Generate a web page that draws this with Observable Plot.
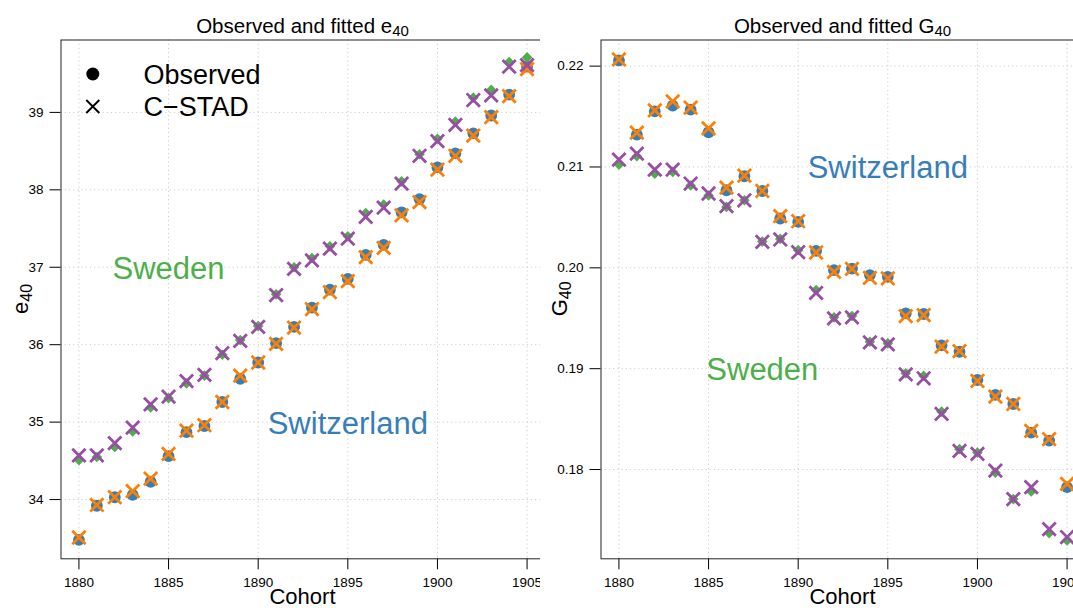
<!DOCTYPE html>
<html>
<head>
<meta charset="utf-8">
<script src="https://cdn.jsdelivr.net/npm/d3@7"></script>
<script src="https://cdn.jsdelivr.net/npm/@observablehq/plot@0.6"></script>
<style>
  html, body { margin: 0; padding: 0; background: #fff; }
  #wrap { position: relative; width: 1073px; height: 608px; overflow: hidden; background: #fff; }
  #left, #right { position: absolute; top: 0; width: 550px; height: 608px; }
  #left { left: 0; }
  #right { left: 540px; }
  #wrap svg { max-width: none !important; }
</style>
</head>
<body>
<div id="wrap"><div id="left"></div><div id="right"></div></div>
<script>
// ---------- data ----------
const cohorts = [1880,1881,1882,1883,1884,1885,1886,1887,1888,1889,1890,1891,1892,1893,1894,1895,1896,1897,1898,1899,1900,1901,1902,1903,1904,1905];

const sweObsE40 = [34.51,34.55,34.68,34.88,35.19,35.31,35.50,35.60,35.87,36.06,36.24,36.65,37.00,37.12,37.27,37.40,37.70,37.81,38.11,38.46,38.66,38.88,39.19,39.29,39.65,39.71];
const sweFitE40 = [34.57,34.57,34.73,34.93,35.23,35.33,35.53,35.61,35.89,36.05,36.23,36.64,36.98,37.09,37.24,37.37,37.65,37.77,38.08,38.44,38.63,38.84,39.16,39.22,39.59,39.61];
const cheObsE40 = [33.48,33.92,34.03,34.06,34.23,34.56,34.87,34.95,35.26,35.56,35.77,36.02,36.23,36.48,36.71,36.85,37.16,37.29,37.71,37.88,38.29,38.47,38.73,38.96,39.23,39.59];
const cheFitE40 = [33.51,33.93,34.03,34.11,34.27,34.59,34.89,34.96,35.26,35.60,35.77,36.01,36.22,36.46,36.68,36.82,37.13,37.25,37.67,37.84,38.26,38.44,38.70,38.94,39.21,39.56];

const cheObsG40 = [0.22056,0.21321,0.21551,0.21608,0.21568,0.21344,0.20769,0.20908,0.20762,0.20489,0.20455,0.20168,0.19977,0.19993,0.19928,0.19911,0.19548,0.19542,0.19232,0.19168,0.18888,0.18740,0.18650,0.18366,0.18287,0.17826];
const cheFitG40 = [0.22066,0.21340,0.21561,0.21650,0.21588,0.21383,0.20796,0.20915,0.20762,0.20512,0.20462,0.20152,0.19960,0.19990,0.19901,0.19895,0.19522,0.19532,0.19218,0.19175,0.18878,0.18723,0.18650,0.18383,0.18301,0.17858];
const sweObsG40 = [0.21024,0.21106,0.20934,0.20950,0.20816,0.20717,0.20604,0.20670,0.20260,0.20287,0.20175,0.19779,0.19509,0.19522,0.19267,0.19251,0.18954,0.18928,0.18574,0.18202,0.18168,0.17970,0.17707,0.17782,0.17370,0.17297];
const sweFitG40 = [0.21073,0.21133,0.20974,0.20974,0.20836,0.20737,0.20611,0.20670,0.20257,0.20281,0.20155,0.19752,0.19499,0.19509,0.19261,0.19241,0.18944,0.18905,0.18551,0.18185,0.18155,0.17990,0.17707,0.17826,0.17410,0.17331];

const xTicks = [1880,1885,1890,1895,1900,1905];
const e40Ticks = [34,35,36,37,38,39];
const g40Ticks = [0.18,0.19,0.20,0.21,0.22];

const legendLabels = ["Observed", "C\u2212STAD"];
const e40Notes = [{x: 1885, y: 37, label: "Sweden", country: "swe"}, {x: 1895, y: 35, label: "Switzerland", country: "che"}];
const g40Notes = [{x: 1895, y: 0.21, label: "Switzerland", country: "che"}, {x: 1888, y: 0.19, label: "Sweden", country: "swe"}];

// ---------- styles ----------
const COL = {che: "#377EB8", cheFit: "#FF7F00", swe: "#4DAF4A", sweFit: "#984EA3"};
const FONT = "'Liberation Sans', Arial, Helvetica, sans-serif";

const toRows = (arr) => cohorts.map((c, i) => ({cohort: c, value: arr[i]}));

function panel({yDomain, yTicks, yFmt, sweObs, sweFit, cheObs, cheFit, notes, title, ylab, legend}) {
  const mL = 60.5, mR = 5.5, mT = 39.5, mB = 49.7, W = 550, H = 608;
  const marks = [
    Plot.gridX(xTicks, {stroke: "#cccccc", strokeOpacity: 1, strokeDasharray: "1.2,3"}),
    Plot.gridY(yTicks, {stroke: "#cccccc", strokeOpacity: 1, strokeDasharray: "1.2,3"}),
    Plot.axisX(xTicks, {tickSize: 11, tickPadding: 8, tickFormat: d => String(d), label: null}),
    Plot.axisY(yTicks, {tickSize: 11, tickPadding: 6.5, tickFormat: yFmt, label: null}),
    Plot.frame({stroke: "#222", strokeWidth: 1}),
    Plot.dot(toRows(cheObs), {x: "cohort", y: "value", fill: COL.che, r: 5.9, symbol: "circle"}),
    Plot.dot(toRows(sweObs), {x: "cohort", y: "value", fill: COL.swe, stroke: "none", r: 4.8, symbol: "diamond2"}),
    Plot.dot(toRows(cheFit), {x: "cohort", y: "value", stroke: COL.cheFit, strokeWidth: 2.8, r: 6.1, symbol: "times"}),
    Plot.dot(toRows(sweFit), {x: "cohort", y: "value", stroke: COL.sweFit, strokeWidth: 2.8, r: 6.1, symbol: "times"}),
    Plot.text(notes, {x: "x", y: "y", text: "label", fill: d => COL[d.country], fontSize: 31, textAnchor: "middle", lineAnchor: "middle", dy: 1.5})
  ];
  if (legend) {
    marks.push(
      Plot.dot([legendLabels[0]], {frameAnchor: "top-left", dx: 31.8, dy: 34, r: 6.5, fill: "#000", symbol: "circle"}),
      Plot.dot([legendLabels[1]], {frameAnchor: "top-left", dx: 31.8, dy: 66.5, r: 6.0, stroke: "#000", strokeWidth: 1.9, symbol: "times"}),
      Plot.text([legendLabels[0]], {frameAnchor: "top-left", dx: 82.5, dy: 35.3, text: d => d, fontSize: 27, textAnchor: "start", lineAnchor: "middle", fill: "#000"}),
      Plot.text([legendLabels[1]], {frameAnchor: "top-left", dx: 82.5, dy: 67.3, text: d => d, fontSize: 27, textAnchor: "start", lineAnchor: "middle", fill: "#000"})
    );
  }
  const svg = Plot.plot({
    width: W, height: H,
    marginLeft: mL, marginRight: mR, marginTop: mT, marginBottom: mB,
    x: {domain: [1879, 1906]},
    y: {domain: yDomain},
    style: {fontFamily: FONT, fontSize: "13.5px", color: "#000", background: "#fff", overflow: "visible", maxWidth: "none"},
    marks
  });
  const s = d3.select(svg);
  const cx = mL + (W - mL - mR) / 2;
  const cy = mT + (H - mT - mB) / 2;
  // title
  const t = s.append("text").attr("x", cx).attr("y", 32.5).attr("text-anchor", "middle")
    .attr("fill", "#000").style("font-size", "20.5px").style("font-family", FONT);
  t.append("tspan").text(title[0]);
  t.append("tspan").attr("dy", "3.5").style("font-size", "15px").text(title[1]);
  // x label
  s.append("text").attr("x", cx).attr("y", 603.5).attr("text-anchor", "middle")
    .attr("fill", "#000").style("font-size", "22px").style("font-family", FONT).text("Cohort");
  // y label
  const yl = s.append("text").attr("transform", `translate(${ylab[2]},${cy}) rotate(-90)`)
    .attr("text-anchor", "middle").attr("fill", "#000").style("font-size", "22px").style("font-family", FONT);
  yl.append("tspan").text(ylab[0]);
  yl.append("tspan").attr("dy", "4").style("font-size", "16px").text(ylab[1]);
  return svg;
}

document.getElementById("left").appendChild(panel({
  yDomain: [33.235, 39.935], yTicks: e40Ticks, yFmt: d => String(d),
  sweObs: sweObsE40, sweFit: sweFitE40, cheObs: cheObsE40, cheFit: cheFitE40,
  notes: e40Notes, title: ["Observed and fitted e", "40"], ylab: ["e", "40", 28], legend: true
}));
document.getElementById("right").appendChild(panel({
  yDomain: [0.17115, 0.22259], yTicks: g40Ticks, yFmt: d3.format(".2f"),
  sweObs: sweObsG40, sweFit: sweFitG40, cheObs: cheObsG40, cheFit: cheFitG40,
  notes: g40Notes, title: ["Observed and fitted G", "40"], ylab: ["G", "40", 27], legend: false
}));
</script>
</body>
</html>
